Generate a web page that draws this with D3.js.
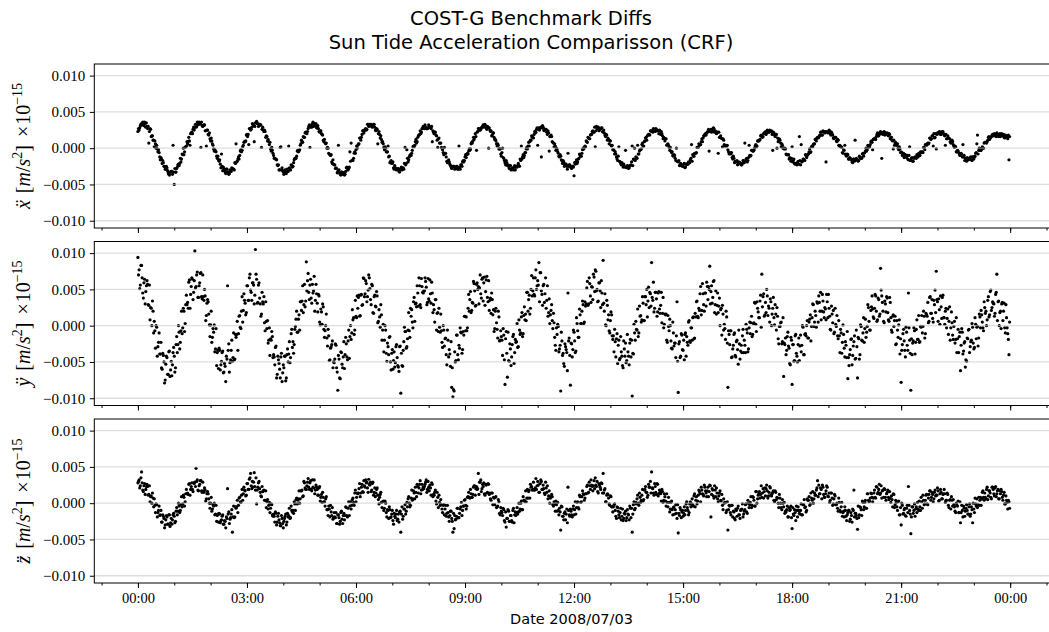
<!DOCTYPE html>
<html><head><meta charset="utf-8">
<script src="https://cdn.jsdelivr.net/npm/d3@7"></script>
<style>body{margin:0;background:#fff}svg{display:block}</style>
</head><body>
<svg id="c" width="1049" height="632"></svg>
<script>
// values in units of 1e-4 (axis unit: m/s^2 x 1e-15)
// "Even" arrays: samples at 00:00, 00:02, 00:04 ...; "Odd" arrays: samples at 00:01, 00:03, ...
const UNIT = 1e-4;
const STEP_MIN = 2;
const xAccelEven = [
23,25,31,34,
36,31,34,35,27,7,27,16,17,11,10,0,-1,-2,-12,-13,-21,-20,-25,-29,-27,-34,-37,-33,-32,4,-50,-33,-28,-23,-24,-14,-15,-9,-9,1,3,6,15,4,21,20,29,29,29,36,33,
33,1,31,31,32,24,25,19,21,10,10,4,-4,-4,-11,-11,-18,-22,-8,-31,-28,-33,-29,-33,-36,-30,-32,-28,-29,-20,6,-18,-12,-10,-2,-3,4,9,10,19,19,27,25,29,33,9,35,
37,34,31,32,1,29,23,23,17,10,9,8,-4,-3,-10,-14,-15,-23,-23,-30,2,-27,-33,-35,-33,-29,-32,-27,-30,-24,-25,-16,-14,-11,-3,-4,4,11,8,15,21,21,23,30,1,31,34,
30,33,34,28,27,22,24,19,11,12,6,0,0,-8,-10,-19,-16,-23,-28,-28,-32,-30,-36,-33,-36,-34,-36,-27,-28,-28,-5,7,-17,-14,-5,-2,0,6,14,11,19,24,24,27,26,33,33,
33,30,31,33,25,27,6,23,14,12,9,1,2,-5,-5,-12,-20,-17,-21,-27,-24,-29,-29,-28,-33,-28,-30,-27,-21,-23,-2,-19,-12,-9,-7,2,2,9,7,15,18,24,22,27,28,32,27,
27,32,29,27,9,22,22,18,11,13,7,7,0,-6,1,-7,-18,-18,-19,-24,-28,-25,-25,-28,-25,-29,3,-29,-23,-19,-19,-12,-13,-7,-4,-3,6,7,15,15,16,22,27,25,26,29,32,
32,30,26,29,28,23,17,21,15,12,6,6,-1,-1,-11,0,-14,-20,-17,-24,-25,-24,-30,-27,-30,-24,-26,-26,-21,-25,-17,-15,-9,-10,-6,1,3,3,11,17,15,19,21,26,4,28,28,
-12,31,25,26,26,19,21,16,18,9,7,6,-3,-2,-7,-12,-11,-17,-17,-25,-22,-25,-7,-23,-25,-28,-25,-38,-22,-16,-19,-14,-10,-11,-2,-1,3,10,8,14,13,19,23,22,29,24,27,
29,25,27,28,22,21,16,18,14,6,10,3,-2,-3,-5,-12,-17,2,-19,-23,-22,-22,-26,-26,-24,-28,-24,-23,3,-15,0,-12,-14,-8,-4,-2,5,3,9,14,11,18,19,24,23,22,26,
23,26,24,20,24,23,17,15,10,13,5,4,-3,-4,-5,-11,-10,-17,-18,-19,-24,-21,-24,-25,-21,-26,-22,-22,-20,-16,5,-9,-11,-7,-6,1,6,5,9,9,17,19,18,22,26,23,26,
26,28,22,23,21,-7,15,17,13,13,5,3,3,-2,-8,-7,-6,-15,-14,-18,-19,-23,-19,-20,-23,-21,-17,7,-15,-19,-13,-10,-10,-3,-4,0,5,3,10,11,17,16,16,21,23,21,23,
22,23,24,-3,21,16,19,14,11,11,2,4,0,0,-8,-9,-9,-13,-18,2,-17,-21,-21,-23,-18,16,-23,-19,-15,-16,-9,-13,-8,-5,-6,2,2,6,12,10,15,15,18,22,18,23,21,
-19,22,22,24,18,20,14,15,15,9,11,3,2,1,-7,-3,-8,-11,-9,-15,-14,-16,-20,-15,11,-14,-16,-17,-13,-13,-8,-11,-6,0,-2,1,2,9,8,12,13,12,19,17,19,23,-14,
19,23,21,19,18,20,13,15,10,11,7,4,6,-2,-1,-5,-10,-7,-11,-11,-10,-16,2,-16,-13,-18,-13,-13,-9,-12,-10,-5,-5,-6,1,5,4,7,7,14,13,17,20,15,-1,21,20,
22,19,23,20,17,19,13,14,13,7,11,5,1,2,-5,-4,-8,-9,-8,5,-10,-14,-18,-14,-15,-13,-16,-12,-15,-11,-6,18,-3,-3,-3,2,0,8,8,9,15,12,15,18,17,20,19,
21,17,19,16,20,18,15,18,16,13,-16
];
const xAccelOdd = [
27,28,33,32,
33,36,29,30,30,23,26,17,11,2,6,4,-5,-6,-16,-15,-17,-25,-29,-25,-31,-36,-33,-32,-36,-33,-28,-33,-26,-22,-21,-19,-8,0,-5,2,9,9,10,20,22,26,25,33,30,33,36,
34,36,30,32,24,3,25,18,13,14,6,-1,-2,-5,-14,-16,-16,-27,-25,-26,-31,-35,-29,-33,-35,-31,-27,-29,-30,-21,-19,-15,-15,-4,-5,2,8,9,18,16,5,27,26,34,31,30,35,
34,30,33,32,26,25,25,15,16,12,5,-1,1,-7,-14,-15,-16,-24,-30,1,-30,-31,-36,-30,-35,-32,3,-29,-23,-26,-20,-14,-14,-4,-5,-2,6,9,16,15,22,20,27,32,29,29,36,
34,31,28,31,23,24,20,18,9,7,7,1,-7,-9,-9,-21,-22,-23,-27,-34,4,-34,-37,-33,-34,-37,-32,-26,-30,-26,-18,-17,-17,-7,-7,3,4,6,14,15,24,21,26,25,33,30,31,
33,29,33,29,24,26,20,19,17,8,6,-2,0,-5,3,-11,-19,-21,-19,-29,-27,-30,-28,-32,-30,-26,-29,-29,1,-21,-14,-16,-10,-10,-3,3,4,12,9,17,19,20,27,30,27,29,27,
28,30,28,30,24,20,22,17,1,14,7,1,-2,-9,-7,-12,-20,-16,-22,-26,-25,-25,-29,-28,-25,-29,-26,-23,-25,-17,-17,-9,-9,-8,-1,-1,8,10,12,20,-3,23,27,25,28,30,29,
33,28,30,0,25,24,18,21,12,10,3,4,-1,-8,-6,-13,-17,-23,-20,-23,-28,-24,-28,-29,-26,-30,-25,-24,-24,-15,3,-12,-13,-6,-1,-1,8,9,11,15,14,23,22,28,26,25,29,
28,29,24,26,22,24,-4,16,16,8,2,3,0,-5,-11,-9,-16,-21,-19,-22,-22,-29,-25,-23,-27,-25,-26,-20,-19,-21,-15,-8,-11,-7,0,1,2,9,15,13,18,19,24,22,2,30,27,
24,27,28,23,25,18,19,11,12,10,4,4,-2,-8,-8,-15,-11,-18,-21,-20,-26,-25,-3,-27,-25,-27,-24,-19,-24,-16,-17,-13,4,-8,-2,-1,7,3,10,15,17,19,18,24,24,27,25,
27,24,24,25,19,20,13,14,13,4,6,1,1,-6,-10,-9,-14,0,-18,-17,-24,-23,-25,-22,-27,-22,-22,-19,-20,-14,-18,-11,-7,-7,1,1,4,5,13,14,17,20,21,23,-4,24,22,
24,27,24,20,22,22,15,14,2,11,3,4,4,-5,-6,-8,-13,-11,-20,-18,-17,-22,-20,-21,-23,-17,-20,-18,-14,-17,4,-11,-3,-4,-3,3,2,10,10,12,18,15,20,21,19,25,22,
25,23,19,22,18,19,0,9,13,7,6,0,-1,-1,-9,-9,-15,-14,-14,-19,-15,-22,-21,-20,-22,-17,5,-18,-15,-17,-10,-10,-8,-1,-5,3,5,6,12,14,14,17,22,18,24,22,23,
23,21,25,20,22,18,13,15,10,12,4,4,2,-6,-2,4,-10,-8,-15,-13,-15,-19,-15,-18,-16,-16,-18,-11,-14,-14,-7,-7,-4,-4,4,2,5,10,-2,13,13,16,21,17,21,20,21,
22,18,20,21,17,19,15,11,-1,4,8,4,0,2,-6,-6,-7,-13,-9,-13,-15,-10,-17,-14,-18,-14,-12,-14,-10,-7,-10,-6,-5,1,-2,5,6,6,14,12,17,3,14,20,19,21,23,
19,22,23,18,4,13,17,14,9,8,9,3,3,-5,-3,-6,-10,-7,-12,-12,-17,-14,-13,-16,-15,-12,-17,-12,-12,-7,6,-8,0,-3,0,0,7,8,7,11,16,14,16,19,19,17,16,
19,16,20,18,17,19,14,17,15,18,16
];
const yAccelEven = [
94,
77,56,83,45,59,30,55,57,28,8,24,34,-10,-7,0,-42,-23,-39,-23,-60,-41,-79,-53,-44,-67,-35,-61,-69,-37,-42,-58,-15,-26,-9,-23,20,-3,20,3,42,32,60,24,54,64,46,103,
54,74,39,59,73,37,40,50,7,31,33,1,1,-23,-4,1,-32,-55,-34,-31,-61,-49,-35,-64,-56,-42,55,-25,-51,-34,-49,-10,-46,-16,6,-11,14,-4,40,21,35,15,55,35,66,49,35,
59,30,105,64,32,59,30,16,33,40,-7,6,7,-20,-41,-20,-15,-40,-54,-28,-67,-47,-60,-43,-77,-54,-42,-76,-40,-50,-22,-44,-5,-22,-26,-1,20,-9,15,33,21,55,29,26,88,62,46,
56,38,57,48,20,57,31,43,5,23,2,26,-16,0,-17,-5,-48,-31,-26,-58,-51,-25,-58,-89,-46,-73,-37,-58,-22,-40,-25,-47,-6,-15,-19,22,11,-6,13,41,39,13,42,28,66,40,62,
33,49,66,36,57,18,40,27,47,4,22,-2,15,-6,-36,0,-38,-24,-40,-15,-61,-33,-48,-57,-29,-44,-57,-29,-93,-55,-34,-2,-8,-29,-6,-7,24,22,-3,39,30,26,45,66,29,65,46,
48,66,53,32,37,63,31,45,29,5,36,17,-8,-2,16,-23,0,-28,-17,-54,-20,-33,-56,-85,-98,-90,-50,-13,-40,-27,-3,-10,-33,-13,13,12,-3,43,36,18,32,61,48,28,59,54,52,
44,64,34,67,47,68,33,21,38,45,15,-8,20,4,-17,12,-20,-15,-41,-13,-81,-8,-71,-48,-25,-55,-26,-12,-37,-23,3,-29,-6,-10,18,-11,26,16,46,20,42,24,69,48,43,66,50,
62,87,73,48,28,57,44,24,55,18,3,21,7,17,-16,-34,-12,-1,-32,-90,-21,-38,-56,-29,-37,45,-17,-82,-25,-33,-9,-37,11,-7,-16,15,3,34,3,33,30,61,30,58,32,53,71,
47,75,50,34,59,25,45,90,20,1,35,8,-7,7,15,-19,-36,-22,-18,-52,-20,-45,-36,-55,-21,-42,-51,-12,-42,-24,-43,-97,-39,-10,6,-6,-15,27,14,8,31,7,40,50,34,25,44,
87,35,19,46,37,19,47,17,46,17,-3,16,16,-23,-1,9,-21,-32,-10,-24,-44,33,-92,-22,-42,-13,-34,-47,-10,-15,-27,7,-23,-3,11,-18,17,33,13,24,44,15,58,29,45,27,54,
54,82,47,31,61,18,48,28,18,38,22,-13,16,2,-19,12,-85,-12,-7,-44,-32,-12,-41,-22,-33,-6,-46,-27,-14,-37,-27,2,-10,-32,5,4,-15,3,32,2,33,19,11,42,71,40,13,
32,50,14,24,37,0,24,11,29,-6,13,-25,-1,5,-22,-70,-26,-40,-15,-28,-52,-16,-81,-26,-48,-12,-42,-26,-48,-13,-27,-2,-40,-11,0,-17,5,15,-1,30,-1,20,-2,31,41,20,8,
43,19,25,8,33,43,13,-6,16,21,-9,2,14,-18,-14,-5,-38,1,-31,-22,-44,-73,-55,-33,-18,-41,-22,-46,-6,-72,-18,-40,-1,-21,11,-4,-16,-1,25,-6,21,41,12,24,41,6,38,
13,79,41,20,4,30,40,18,6,32,-6,13,-1,13,-25,-6,1,-39,-78,-26,-5,-34,-2,-27,45,-20,-89,-40,-21,-7,-23,8,-19,-23,-1,14,-1,13,-11,15,32,6,40,17,10,35,49,
75,33,37,2,26,39,11,2,24,10,-12,26,-3,4,-19,6,-19,-37,-5,-15,-62,-4,-39,-24,-57,-49,-18,-5,-29,-20,-2,-32,11,-18,-1,-17,12,21,5,-7,25,20,8,40,15,49,25,
31,13,43,71,33,0,20,30,7,31,-10,11,-11,-40
];
const yAccelOdd = [
70,
51,83,66,38,64,47,62,29,56,25,0,20,6,-31,-2,-29,-10,-39,-58,-38,-50,-75,-42,-67,-36,-70,-49,-54,-30,-64,-26,-37,0,-32,-7,-11,24,-8,29,29,24,63,43,66,36,62,52,
70,39,55,72,40,70,35,41,14,36,16,-15,20,-16,-9,-36,-4,-37,-59,-34,-54,-37,-65,-52,-77,-46,-34,-64,-47,-20,-44,-47,-12,-12,-34,13,-2,20,5,44,31,18,55,35,71,46,59,
56,42,71,31,56,38,13,46,30,4,33,-4,-24,-3,-18,-8,-44,-43,-30,-72,-42,-52,-72,-38,-65,-58,-42,-72,-32,-39,-51,-11,-30,-38,-5,9,-9,9,-6,33,34,18,57,34,48,72,36,
64,31,45,68,35,44,19,41,1,19,30,-5,-7,16,-28,-14,-47,-29,-21,-50,-46,-27,-64,-41,-72,-36,-53,-43,-59,-16,-43,-21,-45,0,-10,8,-12,35,11,24,42,14,43,29,65,44,58,
40,70,51,29,55,17,42,26,41,6,12,29,-20,2,-20,-6,-49,-29,-16,-50,-38,-60,-36,-51,-26,-55,-63,-28,-38,-56,-22,-8,-31,-18,18,-16,13,5,33,6,31,55,27,55,25,54,45,
48,61,29,65,34,44,60,18,22,36,-6,18,24,-9,-7,-30,-6,-18,-40,-6,-43,-39,-22,-58,-88,-36,-48,-13,-47,-31,-9,-38,-8,13,-7,-7,24,20,47,21,31,58,27,57,50,30,70,
38,66,59,28,63,39,62,35,17,36,22,-4,24,-5,20,-21,-7,-20,-4,-47,-18,-38,-9,-49,-32,-43,-15,-52,-19,-22,-30,8,-12,12,-15,14,8,7,46,36,16,50,41,66,41,77,55,
56,33,73,43,55,32,66,35,13,37,15,29,-4,4,-27,-3,2,-36,-27,-9,-41,-52,-25,-33,-62,-21,-41,-24,-43,-6,-21,-35,3,-16,23,3,20,29,5,27,52,28,66,41,54,36,67,
77,48,33,59,48,62,29,31,44,0,28,15,-10,19,-14,-14,-5,-43,-11,-27,-47,-15,-42,-58,-32,-24,-48,-36,-54,-19,-20,-38,2,-20,-5,23,-10,13,5,40,7,40,29,12,53,46,27,
39,60,24,46,13,45,23,28,4,39,2,15,-20,14,-7,0,-31,5,-28,-24,-14,-49,-25,-44,-11,-33,-20,-12,-42,-23,5,-21,-3,-20,12,-17,12,34,11,21,54,21,44,20,45,60,36,
50,30,55,39,62,29,16,45,27,0,24,28,-6,-4,20,-24,-7,-26,-7,-43,-27,-10,-43,-20,-53,-25,-35,-37,-5,-20,-37,-5,-36,-3,-11,13,-12,4,31,-8,24,11,34,-2,26,44,15,
18,41,27,5,33,16,39,1,16,25,-18,-1,4,-25,11,-24,-17,-34,-9,-31,-54,-20,-26,-49,-14,-38,-50,-17,-28,-36,0,-40,-12,-14,7,-17,9,-21,11,29,5,14,33,5,32,46,20,
34,11,23,43,11,24,-5,27,4,-11,24,-1,-14,7,-37,-10,-23,-12,-43,-27,-8,-44,-40,-19,-54,-28,-14,-45,-29,-16,-46,1,-20,-10,-23,9,-9,29,6,-6,26,23,10,43,20,8,36,
16,49,32,6,34,19,38,8,39,11,-9,15,7,-26,7,-16,8,-18,-34,-11,-21,-43,-9,-34,-3,-38,-18,-24,-3,-39,-5,-19,14,-22,-2,-10,20,-17,17,13,4,39,17,36,5,29,18,
36,6,22,41,10,42,11,20,-3,23,6,-20,19,-13,-1,-24,11,-18,-37,-9,-27,-9,-35,-22,-47,-17,-6,-37,-22,3,-24,-30,2,-2,-28,16,-3,15,-3,33,17,0,35,12,47,21,33,
30,17,46,7,34,18,-4,32,20,-3,29,-3,-19,5
];
const zAccelEven = [
28,
32,24,43,18,24,12,23,23,12,2,10,14,-5,-3,-1,-19,-10,-17,-10,-26,-18,-34,-23,-19,-29,-16,-27,-29,-16,-18,-25,-6,-11,-4,-10,9,-1,8,2,19,14,26,11,23,19,28,29,
48,32,17,26,31,15,17,21,3,13,13,0,0,-11,-2,0,-15,-25,-15,-14,-27,-23,-16,-29,-25,-19,20,-12,-22,-15,-40,-4,-19,-7,4,-3,8,1,19,13,18,10,27,19,33,41,20,
22,42,18,-1,22,30,15,9,16,18,4,-6,5,-3,-13,-1,-16,-15,-26,-14,-26,-14,-27,-31,-21,-34,-21,-15,-26,-19,-7,-20,-10,-10,2,-10,7,4,17,6,17,9,30,21,19,29,22,
28,19,32,21,13,25,19,11,23,8,1,8,2,6,-9,-17,-8,-3,-17,-22,-13,-20,-28,-16,-20,-25,-11,-28,-14,-17,-6,-19,2,-4,-8,5,1,14,2,14,14,27,14,26,15,24,32,
29,15,26,29,18,29,15,9,19,11,-1,12,1,2,-10,3,-13,-9,-21,-9,-19,-10,-29,-18,-15,-24,-15,-12,-40,-5,-18,-8,-15,1,6,0,-3,18,6,14,22,9,23,21,31,18,19,
20,26,32,19,22,25,11,26,12,15,3,15,-6,1,5,-8,-3,-16,-3,-14,-13,-25,-11,-21,-40,-35,-23,-18,-7,-20,-8,1,-10,-4,5,-8,8,15,7,13,8,22,24,20,19,41,29,
32,20,23,13,26,14,27,12,6,14,-2,7,8,-6,-4,2,-16,-11,-17,-9,-26,-33,-21,-11,-25,-17,-26,-7,-16,-17,-6,-12,-11,0,-9,9,4,17,7,7,18,26,23,19,18,21,19,
30,15,27,30,19,20,12,21,24,10,0,9,9,-4,-1,3,-11,-10,-7,-37,-5,-18,-14,-23,-8,22,-16,-8,-16,-8,-16,2,-6,2,-8,9,2,17,12,7,13,25,15,24,32,23,24,
20,25,30,14,25,19,27,41,18,2,11,12,-1,10,-5,-12,-2,-10,-21,-6,-16,-13,-23,-8,-21,-15,-24,-9,-16,-4,-20,-40,-2,-9,1,6,0,14,1,11,3,18,23,15,11,22,30,
43,20,11,23,12,26,13,15,3,16,4,9,-4,1,8,-12,1,-9,-6,-15,-2,-21,-41,-17,-9,-12,-18,-5,-10,2,-10,-13,2,-1,-2,10,-5,9,3,18,13,22,13,10,22,14,17,
9,25,-19,20,10,24,9,14,2,14,4,12,-9,0,1,-10,-37,-3,-13,-3,-19,-12,-23,-10,-7,-16,-21,-9,-1,-15,-9,-1,-14,0,-2,9,-3,8,-4,16,0,11,16,12,8,20,16,
10,25,7,15,21,10,15,4,17,5,7,-6,7,-6,5,-5,-14,-12,-4,-19,-10,-4,-35,-15,-9,-24,-10,-5,-14,-10,-16,-2,5,-5,-10,4,9,-1,7,16,6,11,18,31,25,13,19,
25,12,8,17,22,9,1,14,7,-1,12,-2,0,-11,1,-12,1,-13,-19,-10,-24,-13,-10,-22,-17,-8,18,-14,-17,-36,-20,-5,-9,3,-9,1,-7,13,4,3,14,8,7,18,7,22,15,
26,14,7,18,20,8,13,18,5,7,10,-5,12,-2,1,-10,3,-16,-30,-3,-14,-7,-18,-3,23,-10,-42,-5,-14,-1,-8,-13,-8,3,-10,2,11,-2,4,12,-2,12,17,8,12,6,18,
11,21,3,13,15,6,13,13,4,14,-3,4,-8,4,5,-5,-13,-3,3,-13,-27,-3,-19,-7,-11,-2,-15,-5,-18,-5,-27,-8,7,-4,-6,8,4,-3,15,8,14,6,22,10,17,8,22,
19,10,23,13,19,6,13,16,4,15,-1,4,-8,2
];
const zAccelOdd = [
30,
21,35,28,16,27,19,26,11,24,9,0,7,6,-13,-2,-13,-4,-16,-26,-16,-21,-30,-17,-29,-16,-32,-21,-23,-14,-27,-11,-16,0,-13,-2,-5,11,-4,13,13,12,27,19,28,16,27,23,
30,18,24,31,17,29,15,18,6,16,6,-7,8,-8,-4,-16,-3,-17,-26,-15,-24,-18,-29,-24,-34,-21,-15,-28,-20,-9,-19,-20,-5,-5,-13,7,2,11,4,22,17,11,27,19,35,24,30,
29,23,35,18,28,20,10,23,17,4,17,2,-8,1,-7,-2,-18,-18,-12,-30,-18,-23,-31,-17,-28,-25,-18,-30,-14,-17,-21,-4,-12,-14,-1,5,-1,6,0,17,18,10,28,19,24,34,19,
31,17,22,32,18,22,11,21,3,12,15,2,-4,9,-9,-4,-19,-12,-6,-20,-19,-13,-28,-16,-29,-13,-22,-17,-23,-5,-17,-7,-17,2,-3,7,-3,18,8,13,20,9,22,16,31,22,28,
21,33,25,16,27,11,21,14,21,5,8,15,-6,3,-7,0,-19,-10,-5,-20,-15,-24,-14,-20,-10,-22,-26,-11,-15,-22,-8,-2,-11,-5,9,-5,7,4,17,6,15,26,14,26,13,26,22,
23,29,15,30,17,21,28,9,11,18,-1,8,11,-3,-2,-13,-2,-8,-18,-3,-19,-17,-11,-25,-14,-17,-22,-7,-20,-14,-5,-17,-4,4,-3,-4,9,8,19,8,12,24,11,23,20,12,29,
16,26,28,11,25,15,26,14,4,14,8,-2,9,-5,5,-14,-6,-13,-7,-24,-12,-21,-9,-25,-17,-24,-10,-27,-12,-13,-15,0,-8,3,-9,4,2,2,19,16,7,22,18,29,18,34,24,
25,15,32,19,25,14,29,15,6,17,7,12,-2,2,-11,-2,1,-16,-12,-4,-18,-23,-12,-15,-27,-10,-18,-11,-19,-4,-9,-15,1,-6,11,1,9,13,4,13,23,14,29,19,25,17,31,
35,23,16,27,22,28,14,14,20,2,13,7,-3,9,-5,-5,-1,-18,-5,-11,-20,-7,-18,-24,-14,-11,-20,-15,-23,-7,-7,-15,2,-7,-1,11,-3,8,4,19,5,19,15,8,26,22,14,
21,14,27,15,27,10,18,13,19,1,13,3,13,-5,1,-8,3,-16,-5,-9,-14,-2,-14,-6,-20,-10,-14,-16,-1,-6,-16,-1,-5,6,-4,13,4,-1,11,16,2,18,12,25,17,9,22,
16,24,12,18,7,18,21,6,10,17,3,-3,6,1,-13,2,-9,-4,-16,-3,-11,-21,-8,-18,-4,-16,-10,-8,-19,-11,-2,-12,4,-6,1,-6,9,4,-4,16,6,14,7,24,14,7,21,
20,17,10,23,11,13,17,2,15,8,0,12,0,-9,0,1,-11,-9,-19,-6,-9,-20,-6,-17,-13,-4,-19,-10,-15,-1,-16,-2,-6,-12,6,4,-3,14,4,0,14,11,21,9,13,21,6,
22,8,13,24,10,14,4,14,-3,6,10,-2,-7,7,-10,-5,-18,-11,-5,-18,-16,-10,-25,-13,-26,-10,-19,-14,-21,-4,-16,-6,-17,1,-5,4,-7,13,2,7,13,2,14,8,23,13,19,
12,24,17,8,19,4,15,8,16,1,5,13,-6,4,-5,2,-16,-6,0,-15,-9,-17,-7,-13,-3,-15,-19,-5,-10,-18,-5,1,-10,-5,8,-7,4,-1,11,-1,7,17,4,15,2,15,10,
11,17,4,19,6,12,19,1,4,12,-6,5,9,-4,-2,-11,0,-4,-13,2,-13,-10,-4,-18,-7,-10,-15,-1,-15,-9,0,-13,-1,6,-2,-3,8,6,17,4,8,19,5,17,14,6,22,
13,21,9,17,6,17,19,8,11,-1,10,1,4,-7
];
const yTicks = [0.010, 0.005, 0.000, -0.005, -0.010];
const yDomain = [-0.0110, 0.0116];
const titleLines = ["COST-G Benchmark Diffs", "Sun Tide Acceleration Comparisson (CRF)"];
const xLabelText = "Date 2008/07/03";
const axisSymbols = ["x\u0308", "\u00ff", "z\u0308"];

const svg = d3.select("#c");
const plotLeft = 94.3, plotRight = 1052.7;
const panelTops = [64, 241.5, 419], panelH = 164;
const t0 = Date.UTC(2008, 6, 3);
const HOUR = 3600e3, MIN = 60e3;
const x = d3.scaleUtc()
  .domain([new Date(t0 - 1.2 * HOUR), new Date(t0 + 25.17 * HOUR)])
  .range([plotLeft, plotRight]);
const serif = "'Liberation Serif','DejaVu Serif',serif";
const sans = "'DejaVu Sans',sans-serif";
const series = [[xAccelEven, xAccelOdd], [yAccelEven, yAccelOdd], [zAccelEven, zAccelOdd]];

series.forEach((pair, pi) => {
  const top = panelTops[pi];
  const y = d3.scaleLinear().domain(yDomain).range([top + panelH, top]);
  const g = svg.append("g");
  const pts = [];
  pair[0].forEach((v, i) => pts.push({t: new Date(t0 + i * STEP_MIN * MIN), v}));
  pair[1].forEach((v, i) => pts.push({t: new Date(t0 + (i * STEP_MIN + 1) * MIN), v}));
  g.append("g").selectAll("circle").data(pts).join("circle")
    .attr("cx", d => x(d.t))
    .attr("cy", d => y(d.v * UNIT))
    .attr("r", 1.6)
    .attr("fill", "#000");
  g.append("g").selectAll("line").data(yTicks).join("line")
    .attr("x1", plotLeft).attr("x2", plotRight)
    .attr("y1", d => y(d)).attr("y2", d => y(d))
    .attr("stroke", "rgb(200,200,200)").attr("stroke-opacity", 0.6).attr("stroke-width", 1.3);
  g.append("rect")
    .attr("x", plotLeft).attr("y", top)
    .attr("width", plotRight - plotLeft).attr("height", panelH)
    .attr("fill", "none").attr("stroke", "#000").attr("stroke-width", 1);
  const ya = g.append("g").attr("transform", `translate(${plotLeft},0)`)
    .call(d3.axisLeft(y).tickValues(yTicks).tickFormat(d3.format(".3f")).tickSize(4.5).tickPadding(4.5));
  ya.select(".domain").remove();
  ya.selectAll("line").attr("stroke", "#000");
  ya.selectAll("text").attr("font-family", serif).attr("font-size", 15).attr("fill", "#000");
  const xm = g.append("g").attr("transform", `translate(0,${top + panelH})`)
    .call(d3.axisBottom(x).ticks(d3.utcHour.every(1)).tickSize(2.5).tickFormat(""));
  xm.select(".domain").remove();
  xm.selectAll("line").attr("stroke", "#000");
  const xa = g.append("g").attr("transform", `translate(0,${top + panelH})`)
    .call(d3.axisBottom(x).ticks(d3.utcHour.every(3)).tickSize(5).tickPadding(5)
      .tickFormat(pi === 2 ? d3.utcFormat("%H:%M") : () => ""));
  xa.select(".domain").remove();
  xa.selectAll("line").attr("stroke", "#000");
  xa.selectAll("text").attr("font-family", serif).attr("font-size", 14.5).attr("fill", "#000");

  const lab = svg.append("text")
    .attr("transform", `translate(30,${top + panelH / 2}) rotate(-90)`)
    .attr("text-anchor", "middle")
    .attr("font-family", serif).attr("font-size", 20).attr("fill", "#000");
  lab.append("tspan").attr("font-style", "italic").text(axisSymbols[pi]);
  lab.append("tspan").attr("dx", 7).text("[");
  lab.append("tspan").attr("font-style", "italic").text("m");
  lab.append("tspan").text("/");
  lab.append("tspan").attr("font-style", "italic").text("s");
  lab.append("tspan").attr("dy", -8).attr("font-size", 14).text("2");
  lab.append("tspan").attr("dy", 8).text("]");
  lab.append("tspan").attr("dx", 8).text("\u00d7");
  lab.append("tspan").attr("dx", 1).text("10");
  lab.append("tspan").attr("dy", -8).attr("font-size", 14).text("\u221215");
});

svg.selectAll("text.title").data(titleLines).join("text")
  .attr("class", "title")
  .attr("x", 531).attr("y", (d, i) => 24.5 + i * 24)
  .attr("text-anchor", "middle")
  .attr("font-family", sans).attr("font-size", 19.5).attr("fill", "#000")
  .text(d => d);
svg.append("text")
  .attr("x", 571.5).attr("y", 623.5)
  .attr("text-anchor", "middle")
  .attr("font-family", sans).attr("font-size", 14.5).attr("fill", "#000")
  .text(xLabelText);
</script>
</body></html>
